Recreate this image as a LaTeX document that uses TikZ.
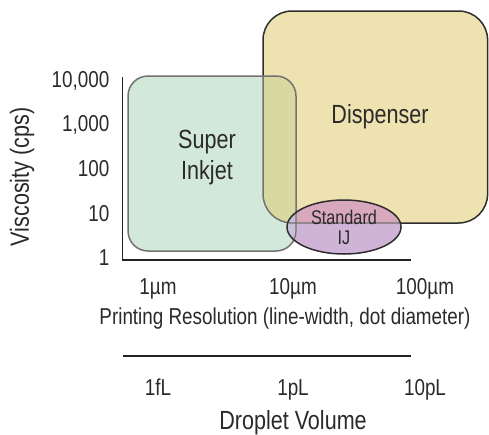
\documentclass[tikz,border=0pt]{standalone}
\usepackage{fontspec}
\setmainfont[FakeStretch=0.82]{Liberation Sans}
\definecolor{txt}{HTML}{2A2A2A}
\definecolor{axis}{HTML}{222222}
\definecolor{dispfill}{HTML}{EEE2B0}
\definecolor{inkfill}{HTML}{D2E8D8}
\definecolor{inkdisp}{HTML}{D8D8A0}
\definecolor{ellfill}{HTML}{D0B4D8}
\definecolor{elldisp}{HTML}{D8A8BC}
\definecolor{ellink}{HTML}{C8C0D8}
\definecolor{darkedge}{HTML}{2E2E2E}
\definecolor{grayedge}{HTML}{727272}
\newcommand\dispshape[1]{\path[#1, rounded corners=29pt] (263,11) rectangle (487.6,223);}
\newcommand\inkshape[1]{\path[#1, rounded corners=20pt] (128,76) rectangle (296,251);}
\newcommand\ellshape[1]{\path[#1] (344,227) ellipse [x radius=57, y radius=27];}
\tikzset{
  tick/.style={text=txt, font=\fontsize{23}{27}\selectfont, inner sep=0pt},
  axtitle/.style={text=txt, font=\fontsize{26.3}{30}\selectfont, inner sep=0pt},
  region/.style={text=txt, font=\fontsize{26.3}{31}\selectfont, align=center, inner sep=0pt},
  axline/.style={draw=axis, line width=1.7pt}
}
\begin{document}
\begin{tikzpicture}[x=1pt,y=-1pt]
\useasboundingbox (0,0) rectangle (489,434);
% dispenser
\dispshape{fill=dispfill, draw=darkedge, line width=1.5pt}
% super inkjet
\inkshape{fill=inkfill}
\begin{scope}
  \inkshape{clip}
  \dispshape{fill=inkdisp, draw=grayedge, line width=1.5pt}
\end{scope}
\inkshape{draw=grayedge, line width=1.5pt}
% standard IJ
\ellshape{fill=ellfill}
\begin{scope}
  \ellshape{clip}
  \dispshape{fill=elldisp}
  \inkshape{fill=ellink}
  \dispshape{draw=grayedge, line width=1.2pt}
  \inkshape{draw=grayedge, line width=1.2pt}
\end{scope}
\ellshape{draw=darkedge, line width=1.5pt}
% axes
\coordinate (ytop) at (122.5,77);
\coordinate (origin) at (122.5,260);
\coordinate (xend) at (411,260);
\coordinate (vl) at (122.5,356);
\coordinate (vr) at (411,356);
\draw[axline] (ytop) -- (origin) -- (xend);
\draw[axline] (vl) -- (vr);
% labels
\node[region] (super) at (207,157.5) {Super\\Inkjet};
\node[region] (disp) at (380,117) {Dispenser};
\node[region, font=\fontsize{19.8}{20}\selectfont] (std) at (344,227) {Standard\\IJ};
\node[tick, anchor=base east] (y4) at (109.5,87) {10,000};
\node[tick, anchor=base east] (y3) at (109.5,131) {1,000};
\node[tick, anchor=base east] (y2) at (109.5,176) {100};
\node[tick, anchor=base east] (y1) at (109.5,221) {10};
\node[tick, anchor=base east] (y0) at (109.5,265) {1};
\node[axtitle, rotate=90] (ytitle) at (22,177) {Viscosity (cps)};
\node[tick, anchor=base] (x0) at (158,294) {1µm};
\node[tick, anchor=base] (x1) at (293,294) {10µm};
\node[tick, anchor=base] (x2) at (425,294) {100µm};
\node[tick] (xtitle) at (285,319) {Printing Resolution (line-width, dot diameter)};
\node[tick, anchor=base] (v0) at (158,395) {1fL};
\node[tick, anchor=base] (v1) at (293,395) {1pL};
\node[tick, anchor=base] (v2) at (425,395) {10pL};
\node[axtitle] (vtitle) at (293,423) {Droplet Volume};
\end{tikzpicture}
\end{document}
